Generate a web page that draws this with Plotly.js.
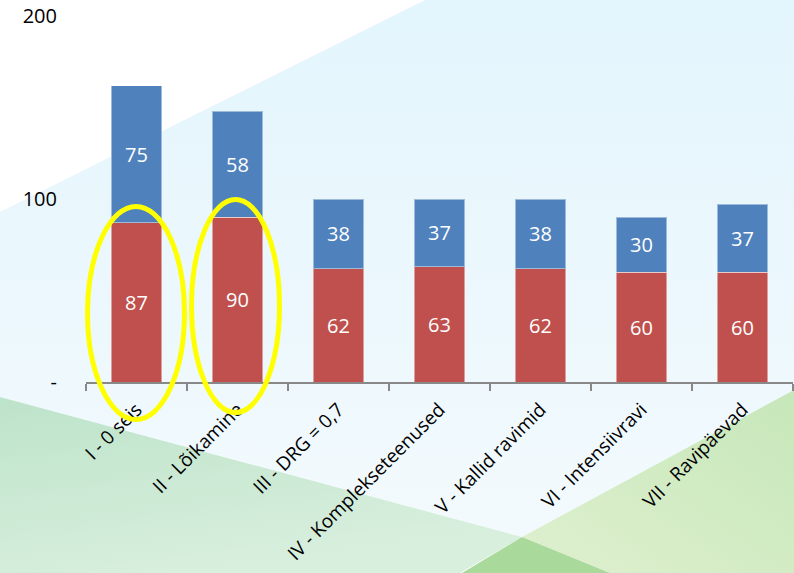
<!DOCTYPE html>
<html><head><meta charset="utf-8">
<script src="https://cdn.plot.ly/plotly-3.0.1.min.js"></script>
<style>
html,body{margin:0;padding:0;width:794px;height:573px;overflow:hidden;background:#fff}
#bg{position:absolute;left:0;top:0}
#chart{position:absolute;left:0;top:0;width:794px;height:573px}
</style></head>
<body>
<svg id="bg" width="794" height="573" viewBox="0 0 794 573">
<defs>
<linearGradient id="gBlue" x1="0" y1="0" x2="0" y2="1">
<stop offset="0" stop-color="#e3f5fd"/><stop offset="1" stop-color="#f3fafd"/>
</linearGradient>
<linearGradient id="gLeft" x1="0" y1="0" x2="0.4" y2="1">
<stop offset="0" stop-color="#bde3ca"/><stop offset="1" stop-color="#d8efdd"/>
</linearGradient>
<linearGradient id="gRight" x1="1" y1="0" x2="0" y2="1">
<stop offset="0" stop-color="#c6e7b9"/><stop offset="1" stop-color="#dff0cf"/>
</linearGradient>
</defs>
<rect x="0" y="0" width="794" height="573" fill="#ffffff"/>
<polygon points="425,0 794,0 794,395 522,537 0,397 0,212" fill="url(#gBlue)"/>
<polygon points="0,397 522,537 460,573 0,573" fill="url(#gLeft)"/>
<polygon points="794,390 794,573 610,573 522,537" fill="url(#gRight)"/>
<polygon points="522,537 610,573 462,573" fill="#a9d99b"/>
</svg>
<div id="chart"></div>
<script>
const categories = ["I - 0 seis", "II - Lõikamine", "III - DRG = 0,7", "IV - Komplekseteenused", "V - Kallid ravimid", "VI - Intensiivravi", "VII - Ravipäevad"];
const redValues = [87, 90, 62, 63, 62, 60, 60];
const blueValues = [75, 58, 38, 37, 38, 30, 37];
const yTickVals = [0, 100, 200];
const yTickText = ["-", "100", "200"];
const yMax = 200;

// highlight ellipses around categories 0 and 1 (category index span, value span)
const ellipseX0 = [-0.485, 0.545];
const ellipseX1 = [0.475, 1.416];
const ellipseY0 = [-20.5, -16.7];
const ellipseY1 = [95.9, 99.7];

const font = "Open Sans, Noto Sans, sans-serif";
const nCat = categories.length;
const traces = [
  {type: "bar", x: categories, y: redValues, text: redValues.map(String), textposition: "inside",
   insidetextanchor: "middle", textfont: {color: "#ffffff", size: 20, family: font},
   marker: {color: "#c0504d", line: {color: "rgba(255,255,255,0.45)", width: 1}}, hoverinfo: "none"},
  {type: "bar", x: categories, y: blueValues, text: blueValues.map(String), textposition: "inside",
   insidetextanchor: "middle", textfont: {color: "#ffffff", size: 20, family: font},
   marker: {color: "#4f81bd", line: {color: "rgba(255,255,255,0.45)", width: 1}}, hoverinfo: "none"}
];
const shapes = ellipseX0.map((_, k) => ({
  type: "circle", xref: "paper", yref: "paper",
  x0: (ellipseX0[k] + 0.5) / nCat, x1: (ellipseX1[k] + 0.5) / nCat,
  y0: ellipseY0[k] / yMax, y1: ellipseY1[k] / yMax,
  line: {color: "#ffff00", width: 5}, layer: "above"
}));
const layout = {
  width: 794, height: 573,
  margin: {l: 86, r: 1, t: 16, b: 191},
  paper_bgcolor: "rgba(0,0,0,0)", plot_bgcolor: "rgba(0,0,0,0)",
  barmode: "stack", bargap: 0.5, showlegend: false,
  font: {family: font, color: "#000"},
  xaxis: {type: "category", range: [-0.5, nCat - 0.5], tickangle: -45, tickson: "boundaries",
          ticks: "outside", ticklen: 7, tickcolor: "#888", tickwidth: 2, ticklabelstandoff: 7,
          showline: true, linecolor: "#888", linewidth: 2, showgrid: false,
          tickfont: {size: 19, color: "#000", family: font}, fixedrange: true},
  yaxis: {range: [0, yMax], tickvals: yTickVals, ticktext: yTickText, showgrid: false,
          zeroline: false, showline: false, ticks: "", ticklabelstandoff: 28,
          tickfont: {size: 20, color: "#000", family: font}, fixedrange: true},
  shapes: shapes
};
Plotly.newPlot("chart", traces, layout, {displayModeBar: false, staticPlot: true});
</script>
</body></html>
